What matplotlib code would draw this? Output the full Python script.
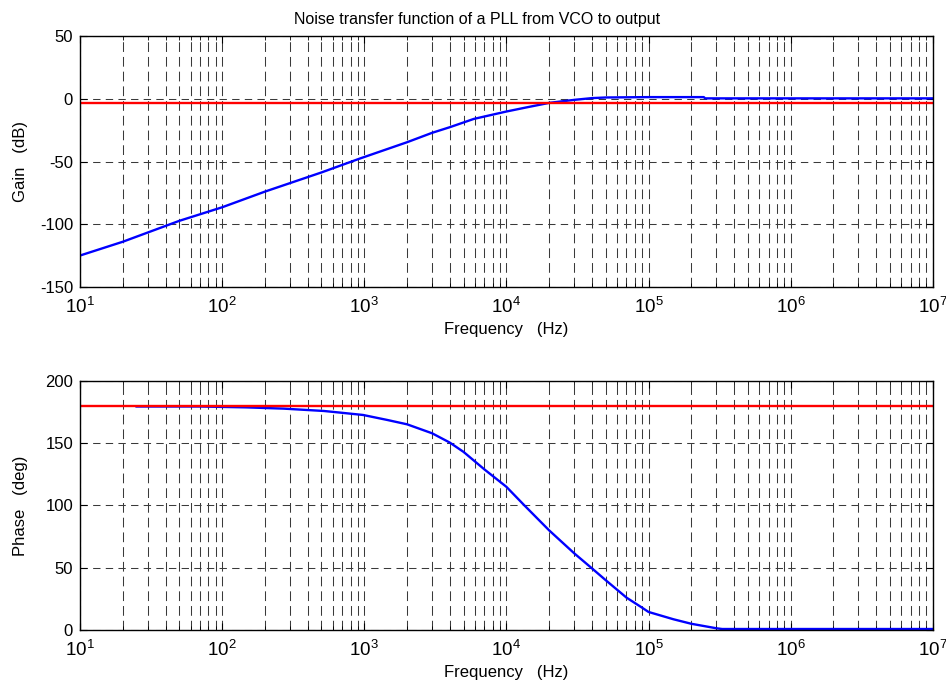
import matplotlib
matplotlib.use("Agg")
import matplotlib.pyplot as plt
from matplotlib.ticker import FixedLocator, NullFormatter, LogFormatterSciNotation
import numpy as np

plt.rcParams['font.family'] = ['Liberation Sans', 'DejaVu Sans']
plt.rcParams['mathtext.fontset'] = 'custom'
plt.rcParams['mathtext.rm'] = 'Liberation Sans'
plt.rcParams['mathtext.it'] = 'Liberation Sans'
plt.rcParams['mathtext.default'] = 'regular'
plt.rcParams['axes.unicode_minus'] = False
plt.rcParams['lines.scale_dashes'] = False

title = "Noise transfer function of a PLL from VCO to output"

gain_freq = [10, 20, 50, 100, 200, 500, 937, 2e3, 3e3, 4e3, 5.9e3, 1e4, 1.4e4,
             2e4, 3e4, 4e4, 5e4, 1e5, 2.45e5, 2.5e5, 1e6, 1e7]
gain_db = [-125, -114, -97.3, -86.5, -74, -58.7, -47.5, -34.6, -27.1, -22.6,
           -16, -10.1, -6.7, -3.2, -0.8, 0.6, 1.1, 1.4, 1.4, 0.4, 0.4, 0.4]
gain_ref_db = -3

phase_freq = [25, 70, 148, 270, 395, 520, 676, 980, 1450, 2e3, 3e3, 4e3,
              5e3, 7e3, 1e4, 1.33e4, 2e4, 3e4, 4e4, 5e4, 7e4, 8.8e4, 1e5,
              1.5e5, 2e5, 3e5, 3.3e5, 1e7]
phase_deg = [179.5, 179.5, 178.8, 177.8, 176.7, 175.9, 174.6, 172.7, 168.7,
             165.2, 158, 150.5, 143, 129, 115, 100.4, 80, 61.6, 49.5, 40,
             26, 18.7, 14.5, 8.6, 5.0, 1.4, 0.8, 0.8]
phase_ref_deg = 180

x_major_ticks = [1e1, 1e2, 1e3, 1e4, 1e5, 1e6, 1e7]
xlim = (10, 1e7)

fig = plt.figure(figsize=(9.46, 6.83), dpi=100)
ax1 = fig.add_axes([0.0846, 0.580, 0.9014, 0.367])
ax2 = fig.add_axes([0.0846, 0.0776, 0.9014, 0.3646])

gcol = '#3a3a3a'
xgrid_kw = dict(color=gcol, linestyle=(0, (7.0, 3.6)), linewidth=0.75)
ygrid_kw = dict(color=gcol, linestyle=(0, (5.3, 3.8)), linewidth=0.75)

minor_ticks = [m * d for d in x_major_ticks[:-1] for m in range(2, 10)]


def style(ax, ylim, yticks, ylabel, xlabel_y):
    ax.set_xscale('log')
    ax.set_xlim(*xlim)
    ax.set_ylim(*ylim)
    ax.set_yticks(yticks)
    ax.xaxis.set_major_locator(FixedLocator(x_major_ticks))
    ax.xaxis.set_major_formatter(LogFormatterSciNotation())
    ax.xaxis.set_minor_locator(FixedLocator(minor_ticks))
    ax.xaxis.set_minor_formatter(NullFormatter())
    ax.xaxis.grid(True, which='both', **xgrid_kw)
    ax.yaxis.grid(True, which='major', **ygrid_kw)
    ax.tick_params(which='both', direction='in', top=True, right=True)
    ax.tick_params(axis='y', labelsize=12, pad=5)
    ax.tick_params(axis='x', labelsize=13.5, pad=7)
    ax.tick_params(which='major', length=5)
    ax.tick_params(which='minor', length=3)
    ax.set_xlabel("Frequency   (Hz)", fontsize=12)
    ax.xaxis.set_label_coords(0.5, xlabel_y)
    ax.set_ylabel(ylabel, fontsize=12)
    ax.yaxis.label.set_va('center')
    ax.yaxis.set_label_coords(-0.0695, 0.5)
    for s in ax.spines.values():
        s.set_linewidth(1.0)
    ax.set_axisbelow(True)


ax1.plot(gain_freq, gain_db, color='#0000ff', linewidth=1.7)
ax1.axhline(gain_ref_db, color='#ff0000', linewidth=1.7)
style(ax1, (-150, 50), [-150, -100, -50, 0, 50], "Gain   (dB)", -0.14)
ax1.set_title(title, fontsize=11.5, pad=9, x=0.4656)

ax2.plot(phase_freq, phase_deg, color='#0000ff', linewidth=1.7)
ax2.axhline(phase_ref_deg, color='#ff0000', linewidth=1.7)
style(ax2, (0, 200), [0, 50, 100, 150, 200], "Phase   (deg)", -0.14)

fig.savefig("out.png", dpi=100)
